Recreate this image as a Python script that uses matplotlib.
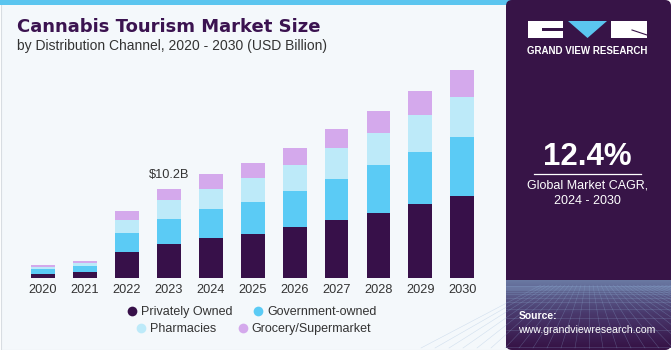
import numpy as np
import matplotlib
matplotlib.use("Agg")
import matplotlib.pyplot as plt
from matplotlib.patches import Rectangle, Polygon, FancyBboxPatch
from matplotlib.lines import Line2D

YEARS = ["2020", "2021", "2022", "2023", "2024", "2025", "2026", "2027", "2028", "2029", "2030"]
PRIVATE = [0.49, 0.68, 2.92, 3.88, 4.52, 4.99, 5.79, 6.59, 7.42, 8.41, 9.36]
GOVERNMENT = [0.49, 0.65, 2.25, 2.89, 3.39, 3.69, 4.19, 4.71, 5.48, 5.94, 6.77]
PHARMACIES = [0.23, 0.34, 1.48, 2.17, 2.28, 2.74, 2.93, 3.50, 3.69, 4.22, 4.57]
GROCERY = [0.23, 0.26, 0.99, 1.26, 1.68, 1.68, 1.97, 2.20, 2.48, 2.77, 3.08]
SERIES = ["Privately Owned", "Government-owned", "Pharmacies", "Grocery/Supermarket"]
COLORS = ["#371049", "#5bcbf5", "#bdeaf9", "#d4a9ec"]
ANNOT_IDX = 3
ANNOT_TEXT = "$10.2B"

W, H = 671, 350
FONT = "Liberation Sans"
DARK = "#371447"

fig = plt.figure(figsize=(W / 100, H / 100), dpi=100)
fig.patch.set_facecolor("white")

# left panel background + top stripe
bg = fig.add_axes([0, 0, 1, 1])
bg.set_xlim(0, W)
bg.set_ylim(H, 0)
bg.axis("off")
bg.add_patch(Rectangle((0.5, 0.5), 515, 349, facecolor="#f4f8fb", edgecolor="#d8dde2", lw=0.8))
bg.add_patch(Rectangle((0, 0), 515, 5, facecolor="#5bc5ef", edgecolor="none"))

# right panel
bg.add_patch(FancyBboxPatch((506, 0), 165, 350, boxstyle="round,pad=0,rounding_size=6",
                            facecolor=DARK, edgecolor="none"))
# bottom texture gradient
grad = np.linspace(0, 1, 100)[:, None]
cmap = matplotlib.colors.LinearSegmentedColormap.from_list("g", [DARK, "#4a3a6e", "#6d7fa8"])
bg.imshow(grad, extent=(506, 671, 280, 348), cmap=cmap, aspect="auto", zorder=1, alpha=0.95)
for k in range(-12, 24):
    bg.plot([589 + k * 4, 589 + k * 14], [285, 348], color="#8fb0d6", lw=0.4, alpha=0.35, zorder=2)
for yy in np.geomspace(1, 62, 14):
    bg.plot([506, 671], [285 + yy, 285 + yy], color="#8fb0d6", lw=0.4, alpha=0.35, zorder=2)

# logo
bg.add_patch(Rectangle((528, 21), 35, 17, facecolor="white", edgecolor="none", zorder=3))
bg.add_patch(Rectangle((542, 28), 21, 3, facecolor=DARK, edgecolor="none", zorder=4))
bg.add_patch(Polygon([(568, 21), (607, 21), (587.5, 38)], closed=True, facecolor="#5bc5ef",
                     edgecolor="none", zorder=3))
bg.add_patch(Rectangle((611, 21), 36, 17, facecolor="white", edgecolor="none", zorder=3))
bg.plot([632, 647], [30, 35], color=DARK, lw=0.8, zorder=4)
bg.text(587.5, 51, "GRAND VIEW RESEARCH", color="white", fontsize=7, fontweight="bold",
        family=FONT, ha="center", va="center", zorder=5)

bg.text(587.5, 157, "12.4%", color="white", fontsize=22.5, fontweight="bold", family=FONT,
        ha="center", va="center", zorder=5)
bg.plot([534, 641], [173.5, 173.5], color="white", lw=0.9, zorder=5)
bg.text(587.5, 186, "Global Market CAGR,", color="white", fontsize=9, family=FONT,
        ha="center", va="center", zorder=5)
bg.text(587.5, 201, "2024 - 2030", color="white", fontsize=9, family=FONT,
        ha="center", va="center", zorder=5)
bg.text(519, 316, "Source:", color="white", fontsize=7.5, fontweight="bold", family=FONT,
        ha="left", va="center", zorder=5)
bg.text(518, 330, "www.grandviewresearch.com", color="white", fontsize=7.6, family=FONT,
        ha="left", va="center", zorder=5)

# titles
fig.text(17 / W, 1 - 27 / H, "Cannabis Tourism Market Size", fontsize=13, fontweight="heavy",
         color="#3b1350", family="DejaVu Sans", ha="left", va="center")
fig.text(17 / W, 1 - 46 / H, "by Distribution Channel, 2020 - 2030 (USD Billion)", fontsize=10,
         color="#333333", family=FONT, ha="left", va="center")

# chart
px_per_b = 8.76
base, top = 278, 60
ax = fig.add_axes([22 / W, 1 - base / H, 461.3 / W, (base - top) / H])
ax.set_facecolor("none")
x = np.arange(len(YEARS))
bottom = np.zeros(len(YEARS))
for vals, c, lab in zip([PRIVATE, GOVERNMENT, PHARMACIES, GROCERY], COLORS, SERIES):
    ax.bar(x, vals, 0.57, bottom=bottom, color=c, label=lab, edgecolor="none")
    bottom += np.array(vals)
ax.set_xlim(-0.5, len(YEARS) - 0.5)
ax.set_ylim(0, (base - top) / px_per_b)
ax.set_xticks(x)
ax.set_xticklabels(YEARS, fontsize=9.2, family=FONT, color="#333333")
ax.tick_params(axis="x", length=0, pad=4)
ax.set_yticks([])
for s in ax.spines.values():
    s.set_visible(False)
ax.text(x[ANNOT_IDX], bottom[ANNOT_IDX] + 0.9, ANNOT_TEXT, ha="center", va="bottom",
        fontsize=9.2, family=FONT, color="#333333")

def row_legend(names, colors, ycen, xcen):
    hs = [Line2D([], [], marker="o", ls="none", markersize=7, markerfacecolor=c,
                 markeredgecolor="none") for c in colors]
    lg = fig.legend(hs, names, loc="center", bbox_to_anchor=(xcen / W, 1 - ycen / H), ncol=2,
                    frameon=False, handletextpad=0.2, columnspacing=1.6, handlelength=1.0,
                    prop={"family": FONT, "size": 9})
    for t in lg.get_texts():
        t.set_color("#333333")
    return lg

row_legend(SERIES[:2], COLORS[:2], 312, 251)
row_legend(SERIES[2:], COLORS[2:], 329, 253)

fig.savefig("out.png", dpi=100)
